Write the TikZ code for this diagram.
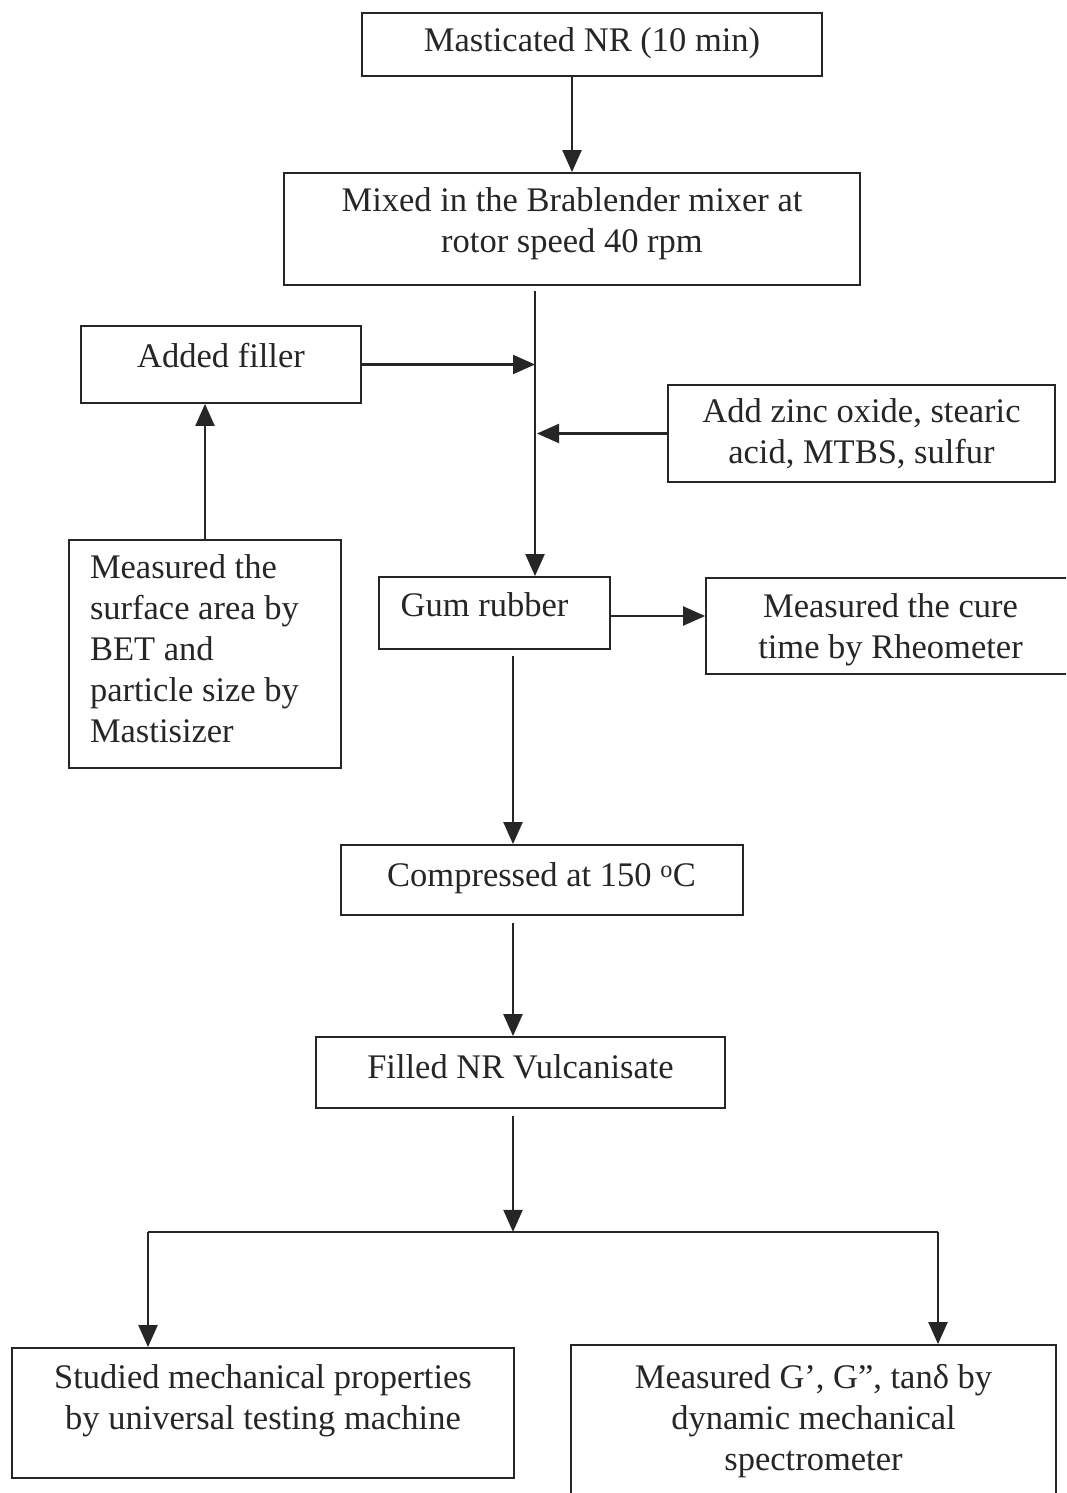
\documentclass[tikz,border=0pt]{standalone}
\usepackage{fontspec}
\setmainfont{Liberation Serif}
\usetikzlibrary{arrows.meta}
\begin{document}
\begin{tikzpicture}[x=1pt,y=-1pt,
  box/.style={draw=black!85, line width=1.8pt, inner sep=0pt},
  txt/.style={inner sep=0pt, align=center, font=\fontsize{34.5}{41}\selectfont, text=black!85},
  conn/.style={draw=black!85, line width=2.2pt},
  arr/.style={conn, -{Triangle[length=22pt,width=19pt]}}]
\useasboundingbox (0,0) rectangle (1066,1493);
\clip (0,0) rectangle (1066,1493);
\fill[white] (0,0) rectangle (1066,1493);
% boxes
\node[box, minimum width=460pt, minimum height=63pt] (m1) at (592,44.5) {};
\node[box, minimum width=576pt, minimum height=112pt] (m2) at (572,229) {};
\node[box, minimum width=280pt, minimum height=77pt] (filler) at (221,364.5) {};
\node[box, minimum width=387pt, minimum height=97pt] (zinc) at (861.5,433.5) {};
\node[box, minimum width=272pt, minimum height=228pt] (surf) at (205,654) {};
\node[box, minimum width=231pt, minimum height=72pt] (gum) at (494.5,613) {};
\node[box, minimum width=369pt, minimum height=96pt] (cure) at (890.5,626) {};
\node[box, minimum width=402pt, minimum height=70pt] (comp) at (542,880) {};
\node[box, minimum width=409pt, minimum height=71pt] (fill) at (520.5,1072.5) {};
\node[box, minimum width=502pt, minimum height=130pt] (stud) at (263,1413) {};
\node[box, minimum width=485pt, minimum height=155pt] (gp) at (813.5,1422.5) {};
% texts
\node[txt] (m1t) at (592,43.5) {Masticated NR (10 min)};
\node[txt] (m2t) at (572,224) {Mixed in the Brablender mixer at\\rotor speed 40 rpm};
\node[txt] (fillert) at (221,355.5) {Added filler};
\node[txt] (zinct) at (861.5,434) {Add zinc oxide, stearic\\acid, MTBS, sulfur};
\node[txt, align=flush left, text width=230pt] (surft) at (205,649) {Measured the\\surface area by\\BET and\\particle size by\\Mastisizer};
\node[txt] (gumt) at (484.5,605) {Gum rubber};
\node[txt] (curet) at (890.5,629.5) {Measured the cure\\time by Rheometer};
\node[txt] (compt) at (541.5,878) {Compressed at 150 \textsuperscript{o}C};
\node[txt] (fillt) at (520.5,1066.5) {Filled NR Vulcanisate};
\node[txt] (studt) at (263,1401) {Studied mechanical properties\\by universal testing machine};
\node[txt] (gpt) at (813.5,1421.5) {Measured G’, G”, tanδ by\\dynamic mechanical\\spectrometer};
% connectors
\draw[arr] (m1.south -| m2.north) -- (m2.north);
\coordinate (tk) at ([xshift=-37pt,yshift=-5pt]m2.south);
\draw[arr] (tk) -- (tk |- gum.north);
\draw[arr] (filler.east) -- (filler.east -| tk);
\draw[arr] (zinc.west) -- ([xshift=2pt]zinc.west -| tk);
\draw[arr] (surf.north) -- (surf.north |- filler.south);
\draw[arr] ([yshift=-3pt]gum.east) -- ([yshift=-3pt]gum.east -| cure.west);
\coordinate (g1) at ([xshift=18.5pt,yshift=-6pt]gum.south);
\draw[arr] (g1) -- (g1 |- comp.north);
\coordinate (c1) at ([xshift=-29pt,yshift=-7pt]comp.south);
\draw[arr] (c1) -- (c1 |- fill.north);
\coordinate (f1) at ([xshift=-7.5pt,yshift=-7pt]fill.south);
\coordinate (jn) at ([yshift=-116pt]f1);
\draw[arr] (f1) -- (jn);
\coordinate (sl) at ([xshift=-115pt]stud.north);
\coordinate (sr) at ([xshift=124.5pt]gp.north);
\draw[conn] (sl |- jn) -- (sr |- jn);
\draw[arr] (sl |- jn) -- (sl);
\draw[arr] (sr |- jn) -- (sr);
\end{tikzpicture}
\end{document}
